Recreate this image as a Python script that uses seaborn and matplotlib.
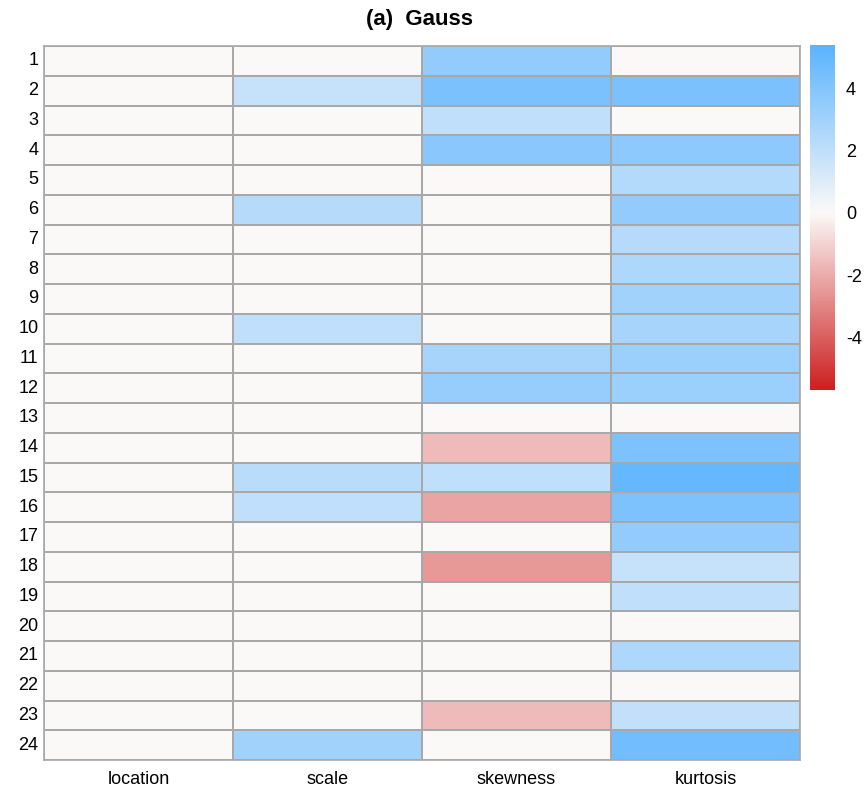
import numpy as np
import pandas as pd
import matplotlib
matplotlib.use("Agg")
import matplotlib.pyplot as plt
from matplotlib.colors import LinearSegmentedColormap
import seaborn as sns

# rows are the 24 cases, columns the four moments
rows = [str(i) for i in range(1, 25)]
cols = ["location", "scale", "skewness", "kurtosis"]

location = [0]*24
scale = [0, 1.8, 0, 0, 0, 2.3, 0, 0, 0, 2.0, 0, 0,
         0, 0, 2.2, 2.0, 0, 0, 0, 0, 0, 0, 0, 3.0]
skewness = [3.5, 4.3, 2.0, 3.8, 0, 0, 0, 0, 0, 0, 2.8, 3.4,
            0, -1.6, 2.0, -2.2, 0, -2.5, 0, 0, 0, 0, -1.6, 0]
kurtosis = [0, 4.3, 0, 3.7, 2.4, 3.5, 2.3, 2.6, 3.0, 2.8, 3.2, 3.2,
            0, 4.2, 5.0, 4.2, 3.5, 1.8, 2.0, 0, 2.6, 0, 1.9, 4.6]

vmin, vmax = -5.7, 5.4

df = pd.DataFrame({"location": location, "scale": scale,
                   "skewness": skewness, "kurtosis": kurtosis}, index=rows)[cols]

# red -> white -> blue, white placed at zero
mid = (0 - vmin) / (vmax - vmin)
cmap = LinearSegmentedColormap.from_list(
    "rwb", [(0.0, "#CC1F1F"), (mid, "#FBF9F7"), (1.0, "#5AB3FF")])

sns.set_style("white")
plt.rcParams['font.family'] = ['Liberation Sans', 'DejaVu Sans']
plt.rcParams['text.color'] = 'black'
plt.rcParams['xtick.color'] = 'black'
plt.rcParams['ytick.color'] = 'black'

fig = plt.figure(figsize=(8.65, 7.92), dpi=100)
W, H = 865, 792
ax = fig.add_axes([44/W, 1 - 760/H, (800-44)/W, (760-46)/H])
cax = fig.add_axes([810/W, 1 - 390/H, 25/W, (390-45)/H])

sns.heatmap(df, ax=ax, cbar_ax=cax, cmap=cmap, vmin=vmin, vmax=vmax,
            linewidths=1.1, linecolor="#A8A8A8", cbar=True)

for s in ax.spines.values():
    s.set_visible(True)
    s.set_color("#A8A8A8")
    s.set_linewidth(1.2)

ax.tick_params(length=0, labelsize=13, pad=4)
ax.set_yticklabels(rows, rotation=0, fontsize=13)
ax.set_xticklabels(cols, fontsize=13)
ax.tick_params(axis="x", pad=8)
ax.set_xlabel("")
ax.set_ylabel("")

cax.tick_params(length=0, labelsize=13, pad=8)
cax.set_yticks([-4, -2, 0, 2, 4])
cax.set_yticklabels(["-4", "-2", "0", "2", "4"])
for s in cax.spines.values():
    s.set_visible(False)

fig.text(420/W, 1 - 20/H, "(a)  Gauss", ha="center", va="center",
         fontsize=16, fontweight="bold")

plt.savefig("out.png", dpi=100)
